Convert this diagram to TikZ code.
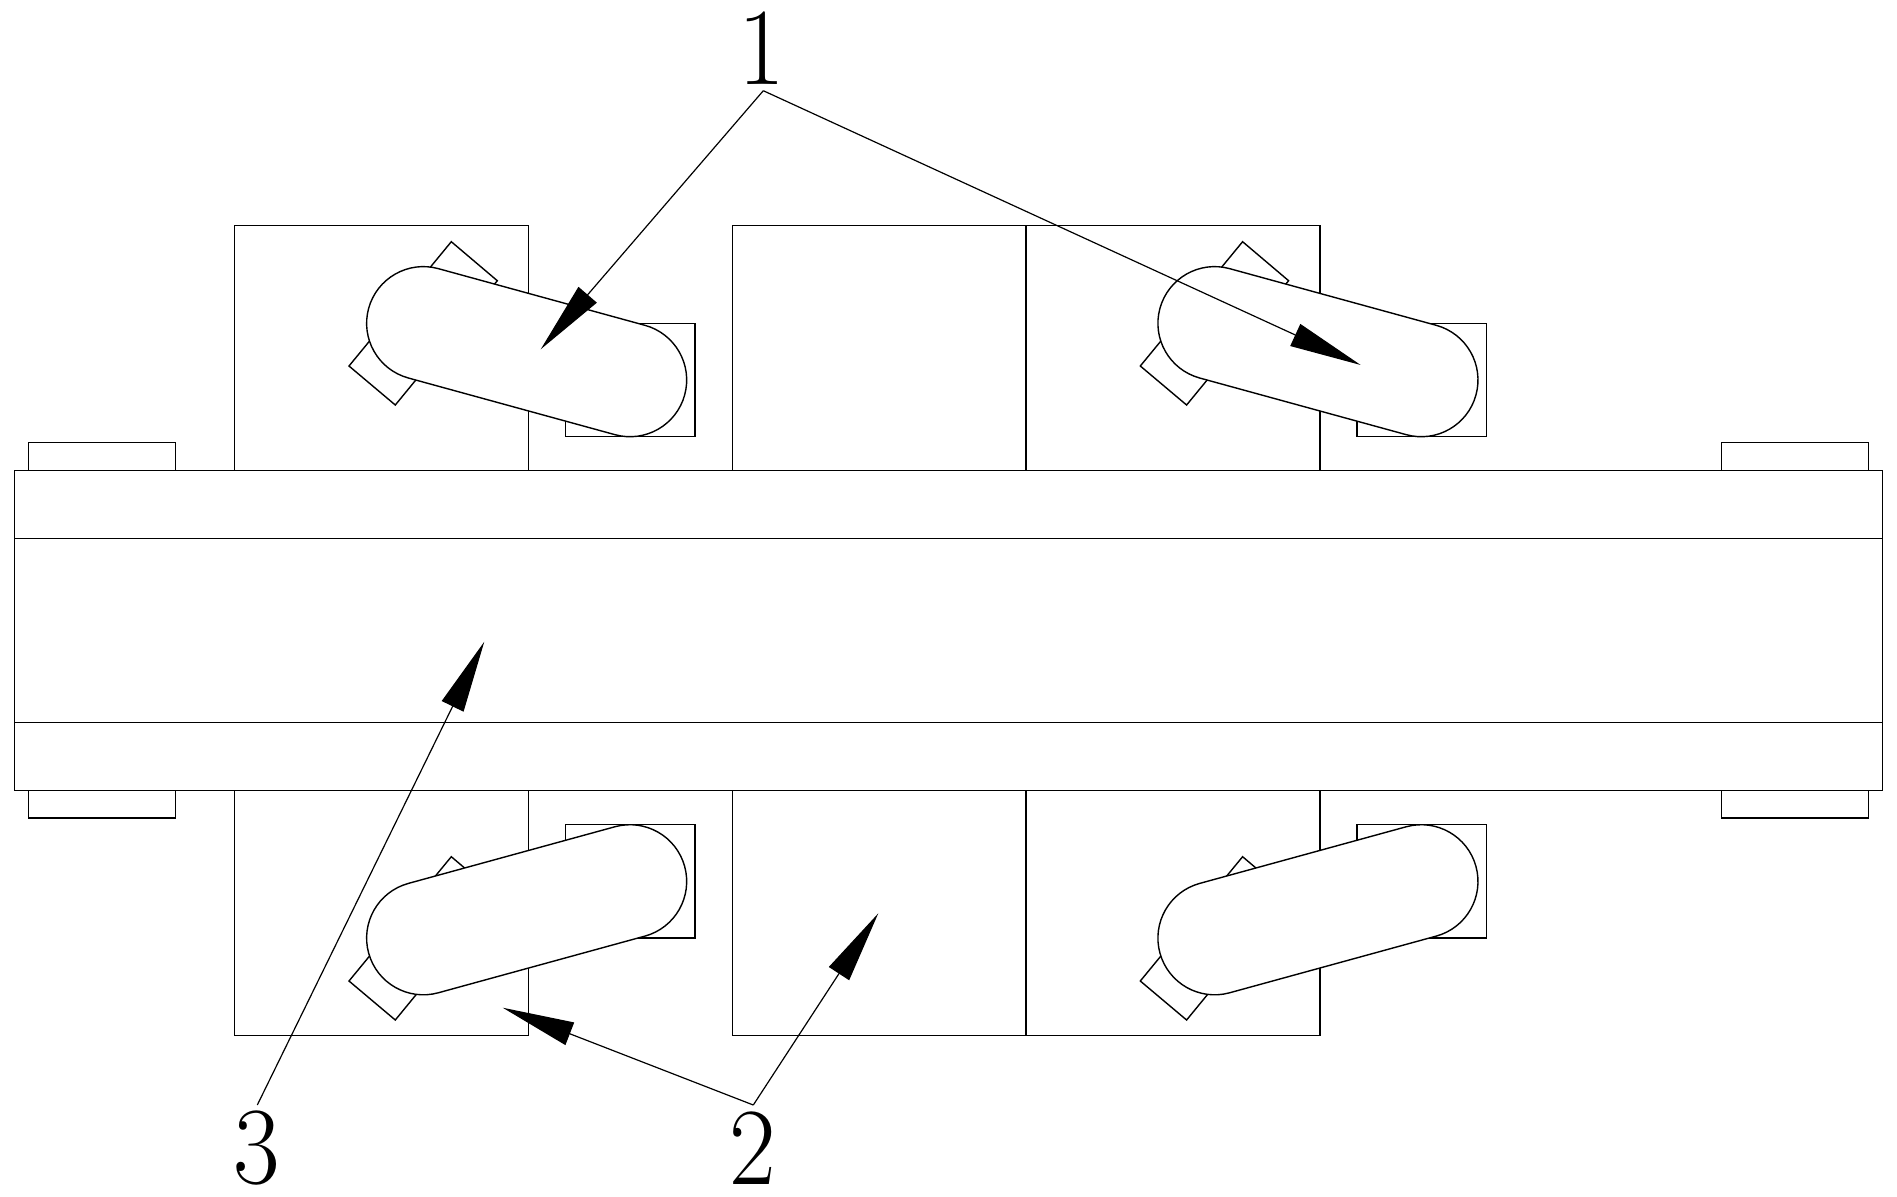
\documentclass[tikz,border=0pt]{standalone}
\usetikzlibrary{shapes.misc,arrows.meta}
\tikzset{
	part/.style={draw=black,line width=0.7pt},
	pill/.style={part,fill=white,shape=rounded rectangle,inner sep=0pt,outer sep=0pt,minimum width=163.85pt,minimum height=56.7pt},
	lead/.style={line width=0.6pt,-{Triangle[length=36pt,width=12pt]}},
	numlabel/.style={inner sep=0pt,font=\fontsize{40}{40}\selectfont,xscale=1.265,yscale=1.375}
}

\begin{document}
\begin{tikzpicture}[x=0.5pt,y=-0.5pt]
		\useasboundingbox (0,0) rectangle (1897,1196);
		% blocks above and below the bar
		\foreach \bx in {234.7,732.3,1026} {
			\draw[part] (\bx,225.7) rectangle +(294,245);
			\draw[part] (\bx,790.7) rectangle +(294,245);
		}
		% parts behind the pills
		\foreach \dx in {0,791.3} {
			\draw[part] (565.7+\dx,323.3) rectangle +(129.3,113.4);
			\draw[part] (565.7+\dx,824.7) rectangle +(129.3,113.4);
			\draw[part] (451.3+\dx,241.7) -- (497.3+\dx,280.7) -- (395.3+\dx,405) -- (349+\dx,366) -- cycle;
			\draw[part] (451.3+\dx,856.7) -- (497.3+\dx,895.7) -- (395.3+\dx,1020) -- (349+\dx,981) -- cycle;
		}
		\node[pill,rotate=-15.34] (pillA) at (526.65,351.65) {};
		\node[pill,rotate=-15.34] (pillB) at (1317.95,351.65) {};
		\node[pill,rotate=15.34] (pillC) at (526.65,909.75) {};
		\node[pill,rotate=15.34] (pillD) at (1317.95,909.75) {};
		% bar and its tabs
		\draw[part] (14.7,470.7) rectangle (1882.3,790.7);
		\draw[part] (14.7,538.7) -- (1882.3,538.7);
		\draw[part] (14.7,722.3) -- (1882.3,722.3);
		\foreach \tx in {28.3,1721.3} {
			\draw[part] (\tx,470.7) -- (\tx,442.7) -- ++(147,0) -- (\tx+147,470.7);
			\draw[part] (\tx,790.7) -- (\tx,818) -- ++(147,0) -- (\tx+147,790.7);
		}
		% labels and leaders
		\node[numlabel] (labA) at (762,47.8) {1};
		\node[numlabel] (labB) at (753,1147.7) {2};
		\node[numlabel] (labC) at (256.7,1147.7) {3};
		\coordinate (apexA) at (763.3,90.7);
		\coordinate (apexB) at (753.3,1105);
		\coordinate (apexC) at (257.3,1105);
		\coordinate (tipAa) at (540.7,349.3);
		\coordinate (tipAb) at (1360.7,365);
		\coordinate (tipBa) at (502.7,1007.7);
		\coordinate (tipBb) at (878.3,913.3);
		\coordinate (tipC) at (484.3,641.7);
		\draw[lead] (apexA) -- (tipAa);
		\draw[lead] (apexA) -- (tipAb);
		\draw[lead] (apexB) -- (tipBa);
		\draw[lead] (apexB) -- (tipBb);
		\draw[lead] (apexC) -- (tipC);
	\end{tikzpicture}
\end{document}
